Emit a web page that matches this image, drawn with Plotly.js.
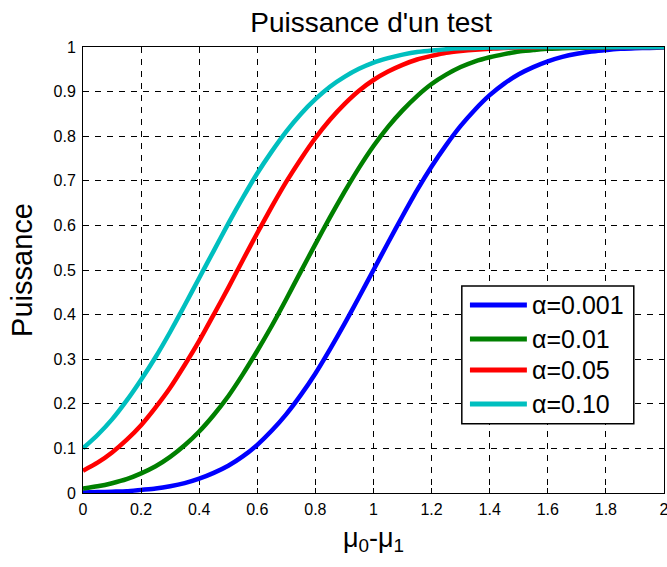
<!DOCTYPE html>
<html>
<head>
<meta charset="utf-8">
<script src="https://cdn.plot.ly/plotly-3.0.1.min.js"></script>
<style>html,body{margin:0;padding:0;background:#fff;}#chart{width:667px;height:567px;}</style>
</head>
<body>
<div id="chart"></div>
<script>
// x positions (mu0 - mu1)
var delta = [0,0.05,0.1,0.15,0.2,0.25,0.3,0.35,0.4,0.45,0.5,0.55,0.6,0.65,0.7,0.75,0.8,0.85,0.9,0.95,1.0,
             1.05,1.1,1.15,1.2,1.25,1.3,1.35,1.4,1.45,1.5,1.55,1.6,1.65,1.7,1.75,1.8,1.85,1.9,1.95,2.0];
// power
var power001 = [0.001,0.002,0.003,0.004,0.007,0.010,0.015,0.022,0.032,0.045,0.061,0.082,0.108,0.140,0.177,0.220,0.268,0.322,0.379,0.439,0.500,
                0.561,0.621,0.679,0.732,0.780,0.823,0.860,0.892,0.918,0.939,0.955,0.968,0.978,0.985,0.990,0.993,0.996,0.997,0.998,0.999];
var power01  = [0.010,0.015,0.022,0.031,0.044,0.060,0.081,0.107,0.138,0.175,0.217,0.266,0.319,0.375,0.435,0.497,0.558,0.618,0.675,0.729,0.778,
                0.821,0.858,0.890,0.917,0.938,0.955,0.968,0.977,0.984,0.990,0.993,0.996,0.997,0.998,0.999,0.999,1.000,1.000,1.000,1.000];
var power05  = [0.050,0.068,0.091,0.119,0.152,0.192,0.236,0.287,0.341,0.400,0.460,0.522,0.583,0.642,0.698,0.749,0.796,0.837,0.872,0.902,0.926,
                0.945,0.960,0.972,0.980,0.987,0.991,0.994,0.996,0.998,0.999,0.999,1.000,1.000,1.000,1.000,1.000,1.000,1.000,1.000,1.000];
var power10  = [0.100,0.130,0.165,0.207,0.254,0.305,0.361,0.421,0.482,0.543,0.604,0.662,0.717,0.766,0.811,0.850,0.883,0.911,0.933,0.951,0.965,
                0.975,0.983,0.989,0.992,0.995,0.997,0.998,0.999,0.999,1.000,1.000,1.000,1.000,1.000,1.000,1.000,1.000,1.000,1.000,1.000];
var seriesNames = ['α=0.001','α=0.01','α=0.05','α=0.10'];
var xTicks = [0,0.2,0.4,0.6,0.8,1,1.2,1.4,1.6,1.8,2];
var xTickText = ['0','0.2','0.4','0.6','0.8','1','1.2','1.4','1.6','1.8','2'];
var yTicks = [0,0.1,0.2,0.3,0.4,0.5,0.6,0.7,0.8,0.9,1];
var yTickText = ['0','0.1','0.2','0.3','0.4','0.5','0.6','0.7','0.8','0.9','1'];

var colors = ['#0000ff','#008000','#ff0000','#00bfbf'];
var ys = [power001, power01, power05, power10];
var traces = ys.map(function(y,i){
  return {x: delta, y: y, type:'scatter', mode:'lines', name: seriesNames[i],
          line:{color: colors[i], width:4.5, shape:'spline', smoothing:0.6}};
});

// custom legend box (layout only, paper coords of the plot area)
var legBox = {x0:0.652, x1:0.948, y0:0.155, y1:0.464};
var legRows = [0.4215, 0.3453, 0.2758, 0.1996];
var shapes = [{type:'rect', xref:'paper', yref:'paper', x0:legBox.x0, x1:legBox.x1, y0:legBox.y0, y1:legBox.y1,
               line:{color:'#000', width:1.5}, fillcolor:'#fff', layer:'above'}];
var annotations = [];
seriesNames.forEach(function(n,i){
  shapes.push({type:'line', xref:'paper', yref:'paper', x0:0.666, x1:0.764, y0:legRows[i], y1:legRows[i],
               line:{color:colors[i], width:5}, layer:'above'});
  annotations.push({xref:'paper', yref:'paper', x:0.769, y:legRows[i], xanchor:'left', yanchor:'middle',
                    text:n, showarrow:false, font:{size:25, color:'#000'}});
});

var font = 'Liberation Sans, Arial, Helvetica, sans-serif';
var layout = {
  width:667, height:567,
  margin:{l:83, r:3, t:47, b:74},
  paper_bgcolor:'#fff', plot_bgcolor:'#fff',
  font:{family:font, color:'#000', size:16},
  title:{text:"Puissance d'un test", font:{size:28, family:font, color:'#000'}, x:0.496, xref:'paper', xanchor:'center',
         yref:'container', y:0.961, yanchor:'middle'},
  showlegend:false,
  shapes: shapes,
  annotations: annotations,
  xaxis:{range:[0,2], tickvals:xTicks, ticktext:xTickText, ticks:'inside', ticklen:5, tickcolor:'#000',
         showline:true, linecolor:'#000', linewidth:1, mirror:'ticks', showgrid:true, gridcolor:'#000', gridwidth:1,
         griddash:'6px,6px', zeroline:false, tickfont:{size:16}, fixedrange:true, ticklabeloverflow:'allow',
         ticklabelstandoff:2,
         title:{text:'μ<sub>0</sub>-μ<sub>1</sub>', font:{size:27}, standoff:10}},
  yaxis:{range:[0,1], tickvals:yTicks, ticktext:yTickText, ticks:'inside', ticklen:5, tickcolor:'#000',
         showline:true, linecolor:'#000', linewidth:1, mirror:'ticks', showgrid:true, gridcolor:'#000', gridwidth:1,
         griddash:'6px,6px', zeroline:false, tickfont:{size:16}, fixedrange:true, ticklabeloverflow:'allow',
         ticklabelstandoff:3,
         title:{text:'Puissance', font:{size:29}, standoff:12}}
};
Plotly.newPlot('chart', traces, layout, {displayModeBar:false, staticPlot:true});
</script>
</body>
</html>
